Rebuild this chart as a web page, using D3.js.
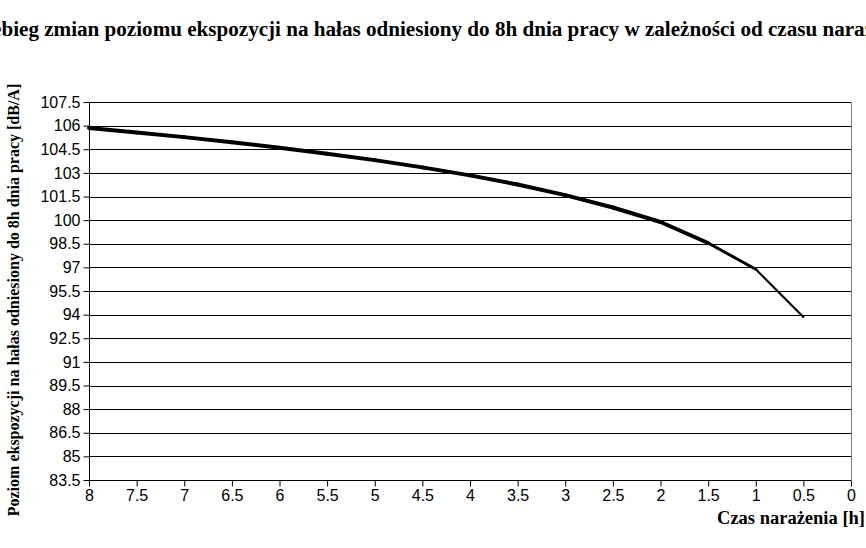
<!DOCTYPE html>
<html><head><meta charset="utf-8">
<script src="https://cdn.jsdelivr.net/npm/d3@7"></script>
<style>body{margin:0;background:#fff}svg{display:block}</style>
</head><body>
<script>
const title = "Przebieg zmian poziomu ekspozycji na hałas odniesiony do 8h dnia pracy w zależności od czasu narażenia";
const yTitle = "Poziom ekspozycji na hałas odniesiony do 8h dnia pracy [dB/A]";
const xTitle = "Czas narażenia [h]";
const hours = [8, 7.5, 7, 6.5, 6, 5.5, 5, 4.5, 4, 3.5, 3, 2.5, 2, 1.5, 1, 0.5];
const levels = [105.85, 105.57, 105.27, 104.95, 104.6, 104.22, 103.81, 103.35, 102.84, 102.26, 101.59, 100.8, 99.88, 98.55, 96.88, 93.85];
const yTicks = [83.5, 85, 86.5, 88, 89.5, 91, 92.5, 94, 95.5, 97, 98.5, 100, 101.5, 103, 104.5, 106, 107.5];
const xTicks = [8, 7.5, 7, 6.5, 6, 5.5, 5, 4.5, 4, 3.5, 3, 2.5, 2, 1.5, 1, 0.5, 0];

const W = 866, H = 548;
const L = 89, R = 851, T = 102, B = 480;
const svg = d3.select("body").append("svg").attr("width", W).attr("height", H);
const x = d3.scaleLinear().domain([8, 0]).range([L, R]);
const y = d3.scaleLinear().domain([83.5, 107.5]).range([B, T]);

// gridlines
svg.append("g").selectAll("line").data(yTicks.slice(1)).join("line")
  .attr("x1", L).attr("x2", R)
  .attr("y1", d => Math.round(y(d)) + 0.5).attr("y2", d => Math.round(y(d)) + 0.5)
  .attr("stroke", "#000").attr("stroke-width", 1);
// right border
svg.append("line").attr("x1", R + 0.5).attr("x2", R + 0.5).attr("y1", T).attr("y2", B)
  .attr("stroke", "#808080");

const fmt = d => String(d);
const yAxis = svg.append("g").attr("transform", `translate(${L + 0.5},0)`)
  .call(d3.axisLeft(y).tickValues(yTicks).tickFormat(fmt).tickSize(6).tickPadding(3));
const xAxis = svg.append("g").attr("transform", `translate(0,${B + 0.5})`)
  .call(d3.axisBottom(x).tickValues(xTicks).tickFormat(fmt).tickSize(6).tickPadding(3));
[yAxis, xAxis].forEach(g => {
  g.select(".domain").attr("stroke", "#000");
  g.selectAll(".tick line").attr("stroke", "#000");
  g.selectAll("text").attr("font-family", "Liberation Sans, Arial, sans-serif")
    .attr("font-size", 16).attr("fill", "#000");
});
yAxis.select(".domain").attr("d", `M0,${T}V${B}`);
xAxis.select(".domain").attr("d", `M${L},0H${R}`);

// line
const pts = hours.map((h, i) => [h, levels[i]]);
const line = d3.line().x(d => x(d[0])).y(d => y(d[1]));
const n = pts.length;
const segW = i => (i >= n - 2 ? 2 : (i >= n - 3 ? 3 : 4));
svg.append("g").selectAll("path").data(d3.range(n - 1)).join("path")
  .attr("d", i => line([pts[i], pts[i + 1]]))
  .attr("fill", "none").attr("stroke", "#000")
  .attr("stroke-width", i => segW(i)).attr("stroke-linecap", "round");

// titles
svg.append("text").attr("x", 436).attr("y", 36).attr("text-anchor", "middle")
  .attr("font-family", "Liberation Serif, Times New Roman, serif").attr("font-weight", "bold")
  .attr("font-size", 21.1).text(title);
svg.append("text").attr("transform", `translate(19,${300}) rotate(-90)`).attr("text-anchor", "middle")
  .attr("font-family", "Liberation Serif, Times New Roman, serif").attr("font-weight", "bold")
  .attr("font-size", 16).text(yTitle);
svg.append("text").attr("x", 865).attr("y", 524).attr("text-anchor", "end")
  .attr("font-family", "Liberation Serif, Times New Roman, serif").attr("font-weight", "bold")
  .attr("font-size", 18.5).text(xTitle);
</script>
</body></html>
